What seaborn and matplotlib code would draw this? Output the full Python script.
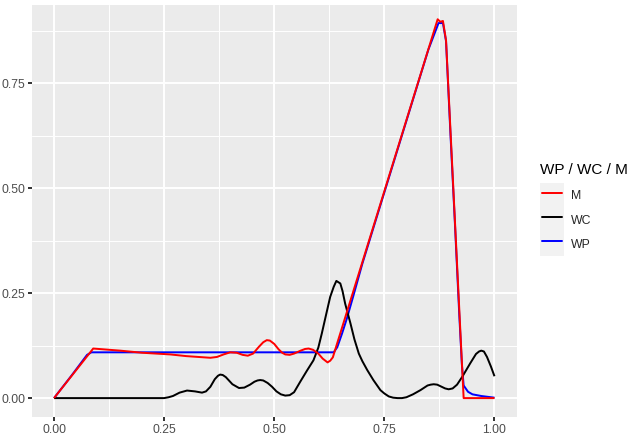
import matplotlib
matplotlib.use("Agg")
import matplotlib.pyplot as plt
from matplotlib.patches import Rectangle
from matplotlib.ticker import MultipleLocator
import seaborn as sns
import pandas as pd

# ---- data ----
wp_x = [0.0, 0.02, 0.04, 0.06, 0.075, 0.085, 0.1, 0.2, 0.3, 0.4, 0.5, 0.6, 0.635,
        0.643, 0.654, 0.665, 0.68, 0.70, 0.75, 0.80, 0.85, 0.873, 0.883, 0.89,
        0.90, 0.91, 0.92, 0.926, 0.93, 0.94, 0.95, 0.97, 1.0]
wp_y = [0.0, 0.027, 0.054, 0.082, 0.103, 0.109, 0.109, 0.109, 0.109, 0.109, 0.109, 0.109, 0.109,
        0.121, 0.154, 0.19, 0.245, 0.32, 0.49, 0.66, 0.83, 0.893, 0.893, 0.85,
        0.63, 0.42, 0.20, 0.08, 0.03, 0.015, 0.009, 0.005, 0.001]

m_x = [0.0, 0.089, 0.15, 0.2, 0.264, 0.3, 0.355, 0.37, 0.385, 0.40, 0.415, 0.428, 0.44,
       0.452, 0.465, 0.475, 0.483, 0.49, 0.50, 0.51, 0.518, 0.525, 0.535, 0.545,
       0.56, 0.57, 0.578, 0.588, 0.60, 0.61, 0.621, 0.627, 0.633,
       0.871, 0.877, 0.883, 0.89, 0.93, 1.0]
m_y = [0.0, 0.118, 0.113, 0.108, 0.104, 0.100, 0.096, 0.098, 0.104, 0.109, 0.108, 0.103, 0.101,
       0.106, 0.122, 0.133, 0.138, 0.137, 0.129, 0.116, 0.108, 0.104, 0.103, 0.106,
       0.113, 0.117, 0.118, 0.115, 0.106, 0.094, 0.085, 0.089, 0.097,
       0.902, 0.896, 0.898, 0.852, 0.0, 0.0]

wc_x = [0.0, 0.1, 0.2, 0.25, 0.26, 0.27, 0.285, 0.302, 0.32, 0.336, 0.345, 0.355,
        0.365, 0.372, 0.377, 0.383, 0.39, 0.405, 0.42, 0.432, 0.445, 0.455, 0.462,
        0.468, 0.475, 0.485, 0.495, 0.505, 0.515, 0.525, 0.535, 0.545, 0.559,
        0.574, 0.589, 0.60, 0.608, 0.618, 0.627, 0.635, 0.641, 0.65, 0.655, 0.661,
        0.673, 0.682, 0.692, 0.70, 0.711, 0.725, 0.741, 0.75, 0.76, 0.77, 0.78,
        0.79, 0.80, 0.815, 0.832, 0.848, 0.855, 0.862, 0.87, 0.878, 0.888, 0.896,
        0.905, 0.915, 0.927, 0.945, 0.958, 0.965, 0.970, 0.976, 0.983, 0.992, 1.0]
wc_y = [0.0, 0.0, 0.0, 0.0, 0.002, 0.005, 0.013, 0.018, 0.016, 0.013, 0.016, 0.027,
        0.045, 0.053, 0.056, 0.055, 0.05, 0.033, 0.024, 0.025, 0.032, 0.039, 0.042,
        0.043, 0.042, 0.036, 0.027, 0.016, 0.009, 0.006, 0.007, 0.014, 0.039,
        0.065, 0.09, 0.12, 0.154, 0.2, 0.241, 0.265, 0.279, 0.273, 0.255, 0.225,
        0.178, 0.14, 0.106, 0.088, 0.067, 0.043, 0.019, 0.011, 0.004, 0.001, 0.0,
        0.0, 0.002, 0.009, 0.019, 0.03, 0.032, 0.033, 0.032, 0.028, 0.023, 0.021,
        0.023, 0.032, 0.051, 0.083, 0.105, 0.111, 0.113, 0.111, 0.098, 0.075, 0.052]

series_names = ["M", "WC", "WP"]
series_colors = {"M": "#FF0000", "WC": "#000000", "WP": "#0000FF"}
x_ticks = [0.0, 0.25, 0.5, 0.75, 1.0]
x_tick_labels = ["0.00", "0.25", "0.50", "0.75", "1.00"]
y_ticks = [0.0, 0.25, 0.5, 0.75]
y_tick_labels = ["0.00", "0.25", "0.50", "0.75"]
legend_title = "WP / WC / M"

df = pd.concat([
    pd.DataFrame({"x": m_x, "y": m_y, "s": "M"}),
    pd.DataFrame({"x": wc_x, "y": wc_y, "s": "WC"}),
    pd.DataFrame({"x": wp_x, "y": wp_y, "s": "WP"}),
], ignore_index=True)

sns.set_theme(style="darkgrid")
plt.rcParams["font.family"] = ["Liberation Sans", "DejaVu Sans"]

W, H = 628, 434
fig = plt.figure(figsize=(W / 100, H / 100), dpi=100)
fig.patch.set_facecolor("white")
ax = fig.add_axes([32 / W, (H - 417) / H, (516.5 - 32) / W, (417 - 5) / H])

sns.lineplot(data=df, x="x", y="y", hue="s", hue_order=series_names,
             palette=series_colors, estimator=None, sort=False,
             linewidth=1.42, ax=ax, legend=True)

# draw order: WP, WC, M on top
zo = {"M": 4, "WC": 3, "WP": 2}
for line, name in zip(ax.lines[:3], series_names):
    line.set_zorder(zo[name])
    line.set_solid_capstyle("butt")
    line.set_solid_joinstyle("round")

handles, labels = ax.get_legend_handles_labels()
ax.get_legend().remove()

ax.set_facecolor("#EBEBEB")
ax.set_xlim(-0.05, 1.05)
ax.set_ylim(-0.045, 0.936)
ax.set_xticks(x_ticks)
ax.set_xticklabels(x_tick_labels)
ax.set_yticks(y_ticks)
ax.set_yticklabels(y_tick_labels)
ax.xaxis.set_minor_locator(MultipleLocator(0.125))
ax.yaxis.set_minor_locator(MultipleLocator(0.125))
ax.grid(which="major", color="white", linewidth=1.42)
ax.grid(which="minor", color="white", linewidth=0.71)
ax.set_axisbelow(True)
for sp in ax.spines.values():
    sp.set_visible(False)
ax.set_xlabel("")
ax.set_ylabel("")
ax.tick_params(which="major", length=2.75, width=1.42, color="#333333",
               labelsize=8.8, labelcolor="#4D4D4D", pad=2.2,
               bottom=True, left=True)
ax.tick_params(which="minor", length=0, bottom=False, left=False)

# legend
fig.text(540 / W, 1 - 170 / H, legend_title, fontsize=11, color="black",
         ha="left", va="center")
fig.add_artist(Rectangle((540 / W, 1 - 256 / H), 24 / W, 73 / H,
                         transform=fig.transFigure, facecolor="#F2F2F2",
                         edgecolor="none", zorder=0))
fs_px = 8.8 * 100 / 72
hh = 1.97
box_h = fs_px * (0.65 * hh + 0.245)
leg = fig.legend(handles, labels, loc="upper left",
                 bbox_to_anchor=(542 / W, 1 - (195.5 - box_h / 2) / H), frameon=False,
                 fontsize=8.8, handlelength=20 / fs_px, handleheight=hh,
                 handletextpad=9 / fs_px, labelspacing=(24.3 - box_h) / fs_px,
                 borderpad=0, borderaxespad=0)
for h in leg.legend_handles:
    h.set_linewidth(1.42)

fig.savefig("out.png", dpi=100)
